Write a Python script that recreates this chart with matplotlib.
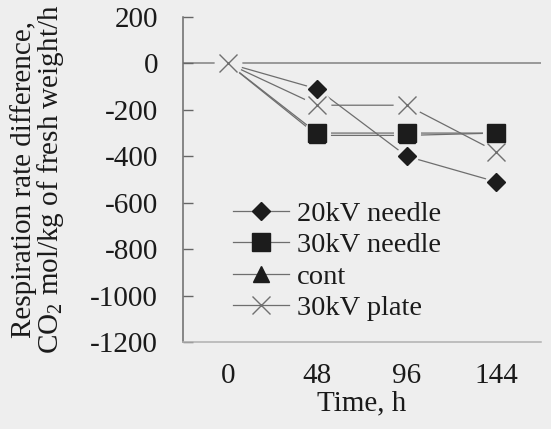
import matplotlib
matplotlib.use("Agg")
import matplotlib.pyplot as plt
from matplotlib.lines import Line2D

# Respiration rate difference over storage time
hours = [0, 48, 96, 144]
needle_20kv = [0, -110, -400, -510]
needle_30kv = [0, -300, -300, -300]
control = [0, -310, -310, -300]
plate_30kv = [0, -180, -180, -380]

labels = ["20kV needle", "30kV needle", "cont", "30kV plate"]
y_ticks = [200, 0, -200, -400, -600, -800, -1000, -1200]

BG = "#eeeeee"
LINE = "#6e6e6e"
MARK = "#1c1c1c"
TXT = "#1a1a1a"

plt.rcParams["font.family"] = ["Liberation Serif", "DejaVu Serif"]
plt.rcParams["mathtext.fontset"] = "custom"
plt.rcParams["mathtext.rm"] = "Liberation Serif"

fig = plt.figure(figsize=(5.51, 4.29), dpi=100, facecolor=BG)
ax = fig.add_axes([183 / 551, 1 - 342 / 429, 358 / 551, 325 / 429])
ax.set_facecolor(BG)

styles = [
    dict(marker="D", ms=9, mfc=MARK, mec=MARK, mew=1),
    dict(marker="s", ms=12.5, mfc=MARK, mec=MARK, mew=1),
    dict(marker="^", ms=12, mfc=MARK, mec=MARK, mew=1),
    dict(marker="x", ms=13, mfc="none", mec="#707070", mew=1.0),
]
series = [needle_20kv, needle_30kv, control, plate_30kv]
# only the plate series shows a marker at the starting point
mark_idx = [[1, 2, 3], [1, 2, 3], [1, 2, 3], [0, 1, 2, 3]]

ax.axhline(0, color="#8a8a8a", lw=1.2, zorder=1)

for vals, st, idx in zip(series, styles, mark_idx):
    ax.plot(hours, vals, color=LINE, lw=0.9, zorder=2)
    # small halo so connecting lines stop short of the markers
    ax.plot(hours, vals, ls="none", marker="o", ms=st["ms"] + 7,
            mfc=BG, mec="none", zorder=3, markevery=idx)
for vals, st, idx in zip(series, styles, mark_idx):
    ax.plot(hours, vals, ls="none", zorder=4, markevery=idx, **st)

ax.set_xlim(-24, 168)
ax.set_ylim(-1200, 200)
ax.set_xticks(hours)
ax.set_xticklabels([str(h) for h in hours])
ax.set_yticks(y_ticks)
ax.set_yticklabels([str(v) for v in y_ticks])

ax.tick_params(axis="y", direction="in", length=7, width=1, color="#666666",
               pad=18, labelsize=21, labelcolor=TXT)
ax.tick_params(axis="x", length=0, pad=15, labelsize=21, labelcolor=TXT)

for side in ("top", "right"):
    ax.spines[side].set_visible(False)
ax.spines["left"].set_color("#6a6a6a")
ax.spines["left"].set_linewidth(1.1)
ax.spines["bottom"].set_color("#b0b0b0")
ax.spines["bottom"].set_linewidth(1.1)

ax.set_xlabel("Time, h", fontsize=21, color=TXT, labelpad=1)

fig.text(38 / 551, 1 - 179 / 429,
         "Respiration rate difference,\nCO$_2$ mol/kg of fresh weight/h",
         rotation=90, ha="center", va="center", multialignment="center",
         linespacing=0.95, fontsize=21, color=TXT)

handles = [Line2D([0], [0], color=LINE, lw=0.9, **st) for st in styles]
ax.legend(handles, labels, loc="upper left",
          bbox_to_anchor=(233 / 551, 1 - 201 / 429), bbox_transform=fig.transFigure,
          frameon=False, fontsize=20.5, handlelength=1.95, handletextpad=0.3,
          labelspacing=0.19, borderpad=0, borderaxespad=0, labelcolor=TXT)

fig.savefig("out.png", dpi=100, facecolor=BG)
